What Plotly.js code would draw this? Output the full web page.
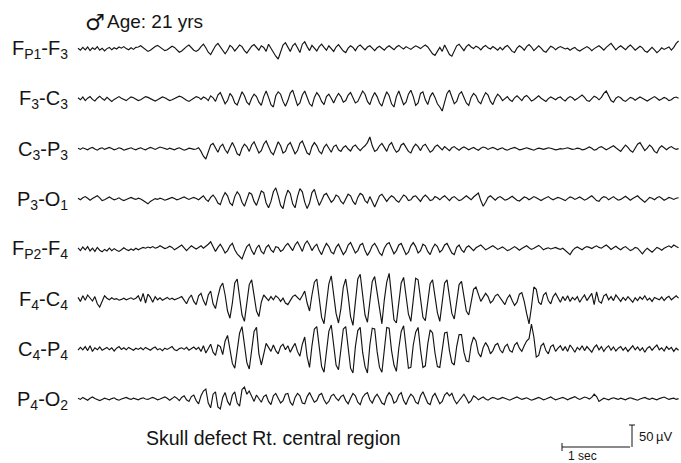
<!DOCTYPE html>
<html><head><meta charset="utf-8">
<script src="https://cdn.plot.ly/plotly-3.0.1.min.js"></script>
<style>html,body{margin:0;padding:0;background:#fff}#chart{width:681px;height:463px}</style>
</head><body><div id="chart"></div>
<script>
// ---- data (µV, one sample every 0.04 s, 10 s per channel) ----
const sampleInterval = 0.04;
const channelLabels = [
  'F<sub>P1</sub>-F<sub>3</sub>', 'F<sub>3</sub>-C<sub>3</sub>', 'C<sub>3</sub>-P<sub>3</sub>', 'P<sub>3</sub>-O<sub>1</sub>',
  'F<sub>P2</sub>-F<sub>4</sub>', 'F<sub>4</sub>-C<sub>4</sub>', 'C<sub>4</sub>-P<sub>4</sub>', 'P<sub>4</sub>-O<sub>2</sub>'
];
const fp1f3 = [
 2,-3,4,-2,5,-4,3,-1,6,-3,2,-5,1,4,-2,3,0,5,2,6,1,-2,3,-1,4,
 5,8,4,-2,-6,-3,2,6,9,5,0,-4,-2,3,7,4,-3,-8,-5,1,6,10,4,-3,-6,
 -2,6,12,3,-8,-14,-4,8,14,5,-6,-12,-3,9,4,-5,2,10,6,-4,-10,-2,7,11,4,
 -3,8,4,-6,12,2,-10,-18,-25,-8,10,16,4,-6,8,14,3,-9,12,18,6,-4,9,2,-5,
 6,12,4,-3,8,2,-6,5,11,3,-5,-9,2,8,4,-4,6,10,3,-2,5,8,2,-4,3,
 7,2,-3,4,8,3,-2,5,9,4,0,6,3,-1,4,8,5,1,6,10,5,-4,-12,-16,-6,
 4,-6,10,-2,-14,-18,-4,8,12,3,-4,6,11,5,1,7,4,-2,5,9,3,0,6,2,-3,
 4,-2,5,9,2,-6,-9,2,8,4,-3,6,11,5,-4,3,8,2,-5,-8,1,7,4,-2,3,
 6,3,0,2,-3,1,4,-2,-5,-1,3,6,2,-4,1,5,8,3,-3,4,9,14,6,-2,4,
 8,3,-2,5,10,4,-3,2,7,3,-5,-8,-3,4,-2,-9,-4,3,-1,2,5,-3,4,14,20
];
const f3c3 = [
 3,-2,5,-4,2,6,-1,-5,2,7,1,-3,4,-2,-6,-1,3,6,2,-2,-4,1,5,3,-1,
 -4,-2,3,6,4,1,-3,-5,-2,2,5,3,-1,-4,-2,1,4,7,5,0,-3,-6,-3,2,6,
 4,-1,5,2,-4,8,3,-6,10,16,2,-12,-4,14,6,-10,-15,4,18,8,-8,-14,2,12,6,
 -8,-16,6,20,4,-14,-20,8,18,12,-6,-18,-4,15,22,2,-16,-10,10,20,6,-12,-18,4,16,
 8,-6,-14,6,12,2,-10,4,14,6,-8,-4,10,16,2,-10,-6,8,20,12,-6,-14,4,16,6,
 -10,-18,2,18,8,-12,-20,6,20,4,-14,-8,12,22,6,-16,-10,14,18,-2,-14,6,16,4,-12,
 -20,-30,-8,14,22,6,-12,-6,12,18,2,-10,-16,4,14,8,-6,-12,4,16,10,-6,-14,2,12,
 6,-4,2,6,-2,-6,3,8,2,-4,5,9,3,-5,-2,4,8,2,-3,-6,1,5,2,-2,3,
 5,-1,-5,2,6,3,-3,1,6,10,4,-4,-6,2,7,4,-2,4,14,20,8,-4,-8,2,6,
 3,-3,-6,-1,4,2,-3,1,5,2,-2,-5,-1,3,6,2,-3,0,4,1,-4,-2,3,5,2
];
const c3p3 = [
 2,-1,3,1,-2,2,4,0,-3,1,3,-1,2,4,1,-2,0,3,1,-3,-1,2,3,0,-2,
 1,3,0,-2,1,4,2,-1,2,5,3,1,-1,2,0,-2,1,3,0,-3,-1,2,1,-1,0,
 3,-6,-18,-25,-6,10,14,2,-8,6,12,-2,-10,4,16,4,-12,-16,2,12,6,-6,10,18,4,
 -10,-4,12,20,6,-8,-14,4,18,8,-10,-6,10,16,2,-12,-4,14,20,4,-10,-14,6,16,8,
 -6,-12,4,12,2,-8,6,10,-2,-6,4,8,0,-5,6,10,2,-4,3,8,16,30,8,-6,-2,
 8,14,4,-6,10,16,2,-8,-4,10,14,4,-6,-10,4,12,6,-4,8,12,2,-8,-4,6,10,
 4,-2,6,2,-4,3,6,1,-3,2,5,2,-2,1,4,0,-3,2,5,3,-1,2,4,1,-2,
 1,3,-1,-3,0,2,4,1,-2,-1,2,3,1,-1,-3,0,2,1,-1,1,3,2,0,-2,-1,
 1,0,2,3,1,-1,0,2,1,-2,-1,3,5,2,-3,-1,4,6,2,-2,1,5,8,3,-2,
 -6,2,10,4,-4,-8,4,12,16,6,-4,2,10,4,-6,-10,2,8,4,-2,3,6,2,-1,1
];
const p3o1 = [
 2,-2,3,6,2,-3,1,4,8,3,-4,-2,2,5,1,-2,0,3,-1,-4,-1,2,4,1,-1,
 2,0,-4,-8,-12,-6,-2,1,-1,2,0,-3,-1,2,4,1,-2,0,3,5,2,-1,2,4,1,
 -2,3,8,-1,-6,4,10,2,-10,-14,4,16,8,-10,-16,6,18,10,-8,-18,2,16,12,-6,-16,
 4,20,16,-10,-22,-6,18,28,8,-16,-24,4,22,14,-12,-22,6,26,18,-8,-24,-10,16,24,2,
 -16,-4,10,14,2,-8,-2,10,6,-6,-12,2,12,8,-6,-14,4,14,10,-4,-10,6,-8,-20,-6,
 8,12,2,-6,2,8,4,-4,-8,2,10,6,-4,-2,6,8,0,-6,4,10,4,-4,-2,6,3,
 -2,4,8,2,-4,3,6,1,-4,-2,4,8,3,-2,5,10,15,-4,-18,-8,4,8,2,-3,3,
 6,2,-3,-1,4,7,2,-3,-5,1,5,3,-2,2,6,3,-1,-4,0,4,6,1,-2,1,4,
 2,-2,-4,1,5,3,-1,2,5,1,-3,0,4,8,2,-4,-6,2,6,4,-2,3,6,1,-3,
 -1,4,7,2,-3,1,5,8,2,-4,-8,-2,4,2,-2,3,6,2,-3,0,4,2,-1,2,3
];
const fp2f4 = [
 3,-4,5,-2,6,-5,2,-6,4,-3,-7,-1,-5,2,-4,1,-3,-6,-2,3,-1,-4,0,-3,2,
 -2,1,4,2,5,3,6,2,4,8,5,1,3,7,4,-2,2,6,10,3,-4,2,8,4,0,
 4,8,2,6,12,18,6,-6,4,12,2,-10,-4,8,14,-2,-12,-20,-25,-8,6,12,-4,-14,2,
 10,-6,-12,4,10,-2,-8,6,4,-6,-2,8,14,4,-4,10,18,6,-6,12,20,10,-4,6,12,
 -4,-14,2,14,6,-8,-12,4,12,-2,-14,-6,10,16,2,-10,-4,10,14,-4,-16,-6,8,14,4,
 -10,-16,2,12,16,2,-12,-4,10,14,-2,-14,-8,8,16,6,-10,-4,12,8,-6,-14,2,12,6,
 -8,-2,10,14,2,-10,-14,4,10,-2,-8,4,8,2,-4,3,6,10,4,-2,1,5,8,4,-1,
 2,5,1,-4,-2,3,6,2,-3,1,4,8,3,-1,2,6,9,4,-2,1,3,0,2,4,1,
 -1,2,-3,-8,-14,-4,2,5,1,-2,3,6,4,1,5,8,4,2,6,10,5,-1,3,7,2,
 -2,3,6,1,-4,-1,4,2,-6,-12,-4,2,-3,-8,-2,4,1,-3,2,6,8,4,10,6,3
];
const f4c4 = [
 4,-6,8,-3,10,2,-5,6,-12,-20,-4,8,2,-2,3,-1,1,-3,-1,2,-2,1,3,-1,2,
 8,-6,14,-10,12,4,-8,6,-2,3,-3,1,4,-1,2,-2,0,3,6,-4,-12,2,10,-6,-14,
 8,14,-4,-16,10,20,-12,-24,6,30,40,10,-30,-48,-10,40,50,6,-40,-56,-16,36,48,10,-30,
 -44,-8,10,4,-4,6,-2,8,3,-6,2,-10,-14,-4,6,10,4,-2,8,20,-10,-30,10,42,50,
 4,-46,-62,-8,38,58,12,-36,-60,-24,30,50,8,-44,-66,-10,50,62,2,-40,-58,-6,44,56,18,
 -30,-62,-2,42,64,8,-52,-60,-6,40,54,14,-38,-56,-4,52,48,-2,-46,-54,0,38,48,12,-34,
 -56,-10,40,48,0,-36,-50,-4,36,44,2,-30,-40,-6,24,30,10,-6,4,14,6,-10,-4,8,12,
 4,-6,-14,2,10,-4,-16,-8,12,16,-6,-36,-62,-20,30,24,-8,-14,10,16,-4,-12,6,14,2,
 -8,6,-4,8,-6,4,-2,6,-8,2,10,-4,4,14,-14,18,-6,-10,8,12,-2,6,-4,10,2,
 -6,4,-3,6,-2,-8,3,-4,5,-1,8,-3,2,-6,4,1,-2,5,-4,3,7,-2,4,8,2
];
const c4p4 = [
 -3,4,-2,6,-4,8,-6,3,-2,5,-3,1,4,-2,3,-5,2,6,-1,3,-2,4,1,-3,2,
 -1,3,-2,4,1,-3,2,5,-2,1,-4,2,-1,3,6,-2,-4,1,3,-1,4,-3,2,5,-1,
 4,-6,8,-10,2,12,-8,-16,10,6,-14,20,34,-4,-36,-48,-8,40,56,10,-34,-50,-6,44,54,
 -12,-40,-8,14,4,-6,10,-4,-12,6,12,-2,8,-8,4,14,-6,-18,12,30,-20,-46,8,50,56,
 0,-44,-58,2,44,60,10,-40,-52,-4,50,56,4,-48,-60,6,46,54,-8,-44,-60,10,52,50,-6,
 -46,-58,8,54,52,-4,-40,-56,2,44,58,6,-48,-46,10,42,54,-2,-46,-42,12,48,40,-10,-44,
 -46,2,40,42,-4,-34,-40,6,36,36,-8,-30,-32,10,30,20,-10,-20,4,16,6,-12,-4,10,14,
 -2,-10,6,12,-4,-8,10,16,2,-6,8,20,26,62,30,-20,-16,8,14,-4,-12,6,10,-6,2,
 8,-4,6,-6,10,2,-8,4,-2,8,-4,6,-2,-8,4,10,-2,6,-6,3,8,-3,5,-5,2,
 6,-3,4,-6,2,8,-2,5,-4,3,-8,2,6,-3,4,10,-2,3,-5,6,-1,4,-6,2,-3
];
const p4o2 = [
 2,-1,4,1,-3,2,5,1,-2,-4,-1,2,0,-2,1,3,-1,-3,0,2,4,1,-1,2,0,
 -2,1,3,0,-1,2,4,1,-2,0,3,5,2,-3,1,6,2,-4,4,8,-2,-6,6,10,-4,
 -12,8,20,25,-10,-22,12,18,-20,-25,4,16,-6,-16,10,18,-10,-18,24,30,12,20,6,-6,10,
 2,-8,6,10,-6,-14,8,14,2,-10,-4,12,14,-8,-16,4,14,8,-10,-12,6,16,4,-8,-4,
 10,14,-2,-12,-6,8,12,2,-4,6,10,-4,-12,2,14,8,-8,-14,4,12,16,-2,-10,4,12,
 2,-10,-14,6,16,8,-10,-6,10,16,-4,-14,2,12,6,-8,-12,8,18,4,-10,-14,6,14,2,
 -12,-6,10,16,8,14,-2,-12,-4,6,12,2,-10,-4,8,4,-2,2,5,0,-3,1,4,2,-1,
 1,4,2,-1,-3,0,3,5,2,-1,1,3,0,-3,-1,2,4,1,-2,0,3,5,1,-2,0,
 2,4,1,-2,1,3,6,2,-1,2,5,3,0,4,12,6,-6,-2,2,0,-2,1,3,1,-1,
 2,0,-2,1,3,1,-1,-3,0,2,4,1,-1,2,0,-2,1,3,5,2,-1,1,2,-1,1
];
const channels = [fp1f3, f3c3, c3p3, p3o1, fp2f4, f4c4, c4p4, p4o2];

// ---- layout geometry (pixels) ----
const W = 681, H = 463;
const traceLeft = 78, pxPerSec = 60.3;
const rowTop = 49, rowGap = 50, halfBand = 45, uVperPx = 2.5;
const ink = '#141414';
const font = 'Liberation Sans, Arial, Helvetica, sans-serif';
const px = x => x / W, py = y => 1 - y / H;

const data = channels.map((vals, i) => ({
  type: 'scatter', mode: 'lines', y: vals, x0: 0, dx: sampleInterval,
  yaxis: i === 0 ? 'y' : 'y' + (i + 1), xaxis: 'x',
  line: {color: ink, width: 1.15}, hoverinfo: 'skip', showlegend: false
}));

const layout = {
  width: W, height: H, margin: {l: 0, r: 0, t: 0, b: 0},
  paper_bgcolor: '#fff', plot_bgcolor: 'rgba(0,0,0,0)', showlegend: false, hovermode: false,
  xaxis: {range: [-traceLeft / pxPerSec, (W - traceLeft) / pxPerSec], visible: false, fixedrange: true},
  annotations: [], shapes: []
};
channels.forEach((_, i) => {
  const c = rowTop + rowGap * i;
  const key = i === 0 ? 'yaxis' : 'yaxis' + (i + 1);
  layout[key] = {
    domain: [py(c + halfBand), py(c - halfBand)],
    range: [-halfBand * uVperPx, halfBand * uVperPx],
    visible: false, fixedrange: true, anchor: 'x'
  };
  layout.annotations.push({
    xref: 'paper', yref: 'paper', x: px(70), y: py(c + 1), xanchor: 'right', yanchor: 'middle',
    text: channelLabels[i], showarrow: false, font: {family: font, size: 20, color: ink}
  });
});
layout.annotations.push(
  {xref: 'paper', yref: 'paper', x: px(83), y: py(22), xanchor: 'left', yanchor: 'middle',
   text: '\u2642', showarrow: false, font: {family: 'DejaVu Sans', size: 22, color: ink}},
  {xref: 'paper', yref: 'paper', x: px(105), y: py(21), xanchor: 'left', yanchor: 'middle',
   text: 'Age: 21 yrs', showarrow: false, font: {family: font, size: 19, color: ink}},
  {xref: 'paper', yref: 'paper', x: px(144), y: py(438), xanchor: 'left', yanchor: 'middle',
   text: 'Skull defect Rt. central region', showarrow: false, font: {family: font, size: 19.5, color: ink}},
  {xref: 'paper', yref: 'paper', x: px(582), y: py(456), xanchor: 'center', yanchor: 'middle',
   text: '1 sec', showarrow: false, font: {family: font, size: 12, color: ink}},
  {xref: 'paper', yref: 'paper', x: px(637), y: py(436), xanchor: 'left', yanchor: 'middle',
   text: '50\u2009\u00b5V', showarrow: false, font: {family: font, size: 13, color: ink}}
);
const sl = (x0, y0, x1, y1) => ({type: 'line', xref: 'paper', yref: 'paper',
  x0: px(x0), y0: py(y0), x1: px(x1), y1: py(y1), line: {color: ink, width: 1}});
layout.shapes.push(
  sl(562, 447, 630, 447), sl(562, 443, 562, 451),
  sl(632, 425, 632, 447), sl(629, 425, 635, 425)
);

Plotly.newPlot('chart', data, layout, {displayModeBar: false, staticPlot: true});
</script>
</body></html>
